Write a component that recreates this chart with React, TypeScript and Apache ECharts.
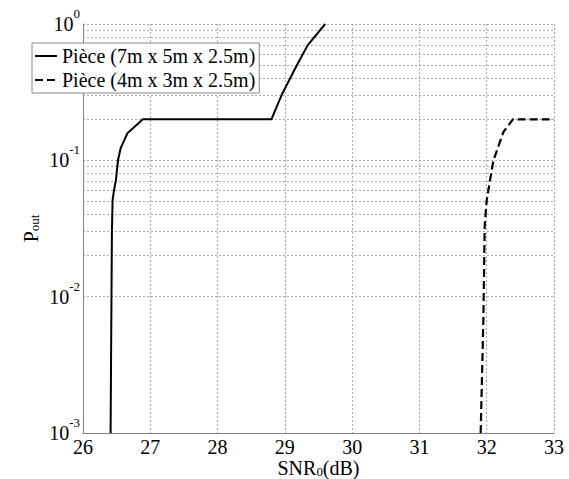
import React, { useEffect, useRef } from "react";
import * as echarts from "echarts";

const seriesNames = ["Pièce (7m x 5m x 2.5m)", "Pièce (4m x 3m x 2.5m)"];
const xTicks = [26, 27, 28, 29, 30, 31, 32, 33];
const room1: [number, number][] = [
  [26.41, 0.001], [26.42, 0.0057], [26.43, 0.031], [26.44, 0.051], [26.46, 0.06],
  [26.49, 0.072], [26.52, 0.1], [26.56, 0.123], [26.66, 0.158], [26.89, 0.2],
  [28.8, 0.2], [28.95, 0.3], [29.18, 0.5], [29.34, 0.7], [29.6, 1.0],
];
const room2: [number, number][] = [
  [31.91, 0.001], [31.95, 0.0067], [31.97, 0.033], [32.0, 0.051], [32.05, 0.072],
  [32.1, 0.1], [32.25, 0.162], [32.39, 0.2], [33, 0.2],
];
const minorGrid = [
  0.002, 0.003, 0.004, 0.005, 0.006, 0.007, 0.008, 0.009,
  0.02, 0.03, 0.04, 0.05, 0.06, 0.07, 0.08, 0.09,
  0.2, 0.3, 0.4, 0.5, 0.6, 0.7, 0.8, 0.9,
];

const FONT = "'Liberation Serif', 'Times New Roman', serif";
const GRID_STYLE = { color: "#a8a8a8", type: [2, 2] as any, width: 1 };

export default function App() {
  const ref = useRef<HTMLDivElement>(null);
  useEffect(() => {
    if (!ref.current) return;
    const chart = echarts.init(ref.current, undefined, { renderer: "svg" });
    const subRich = {
      b: { fontSize: 20, fontFamily: FONT, color: "#000", lineHeight: 18, verticalAlign: "top" },
      sub: { fontSize: 13, fontFamily: FONT, color: "#000", lineHeight: 12, padding: [7, 0, 0, 0], verticalAlign: "top" },
    };
    chart.setOption({
      animation: false,
      backgroundColor: "#fff",
      grid: { left: 83, top: 24, right: 15, bottom: 46, containLabel: false, outerBoundsMode: "none" },
      legend: {
        orient: "vertical",
        left: 32,
        top: 43,
        data: seriesNames,
        itemWidth: 22,
        itemHeight: 14,
        itemGap: 4,
        padding: [3, 4, 3, 2],
        backgroundColor: "#fff",
        borderColor: "#888",
        borderWidth: 1,
        borderRadius: 0,
        itemStyle: { opacity: 0 },
        textStyle: { fontSize: 20, fontFamily: FONT, color: "#000" },
      },
      xAxis: {
        type: "value",
        min: xTicks[0],
        max: xTicks[xTicks.length - 1],
        interval: 1,
        axisLine: { show: true, onZero: false, lineStyle: { color: "#808080", width: 1 } },
        axisTick: { show: false },
        axisLabel: { fontSize: 20, lineHeight: 20, fontFamily: FONT, color: "#000", margin: 4 },
        splitLine: { show: true, lineStyle: GRID_STYLE },
        name: "{b|SNR}{sub|0}{b|(dB)}",
        nameLocation: "middle",
        nameGap: 25,
        nameMoveOverlap: false,
        nameTextStyle: { rich: subRich },
      },
      yAxis: {
        type: "log",
        logBase: 10,
        min: 0.001,
        max: 1,
        axisLine: { show: true, lineStyle: { color: "#808080", width: 1 } },
        axisTick: { show: false },
        axisLabel: {
          margin: 3,
          formatter: (v: number) => `{b|10}{s|${Math.round(Math.log10(v))}}`,
          rich: {
            b: { fontSize: 20, fontFamily: FONT, color: "#000", lineHeight: 20, verticalAlign: "bottom" },
            s: { fontSize: 13, fontFamily: FONT, color: "#000", lineHeight: 13, padding: [0, 0, 14, 0], verticalAlign: "bottom" },
          },
        },
        splitLine: { show: true, lineStyle: GRID_STYLE },
        name: "{b|P}{sub|out}",
        nameLocation: "middle",
        nameGap: 44,
        nameMoveOverlap: false,
        nameRotate: 90,
        nameTextStyle: { rich: subRich },
      },
      series: [
        {
          name: seriesNames[0],
          type: "line",
          data: room1,
          symbol: "none",
          lineStyle: { color: "#000", width: 2 },
          itemStyle: { color: "#000", opacity: 0 },
          z: 5,
          markLine: {
            silent: true,
            symbol: "none",
            label: { show: false },
            lineStyle: GRID_STYLE,
            z: 1,
            data: minorGrid.map((v) => ({ yAxis: v })),
          },
        },
        {
          name: seriesNames[1],
          type: "line",
          data: room2,
          symbol: "none",
          lineStyle: { color: "#000", width: 2.2, type: [8, 4] },
          itemStyle: { color: "#000", opacity: 0 },
          z: 5,
        },
      ],
    });
    return () => chart.dispose();
  }, []);
  return (
    <div
      ref={ref}
      style={{ position: "fixed", left: 0, top: 0, width: 569, height: 479, background: "#fff" }}
    />
  );
}
